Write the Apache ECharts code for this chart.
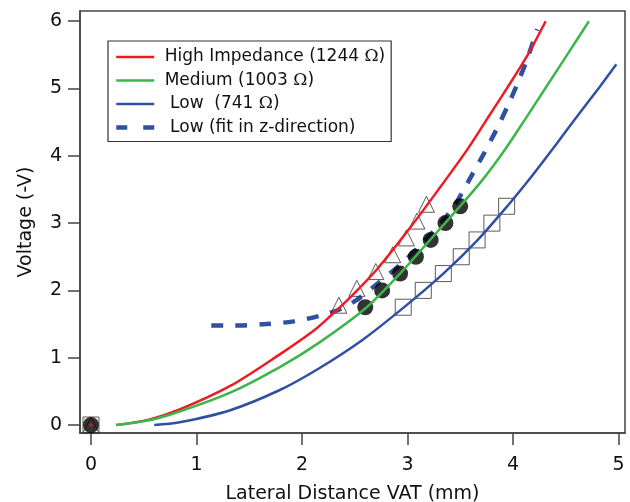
<!DOCTYPE html>
<html><head><meta charset="utf-8">
<script src="https://cdn.jsdelivr.net/npm/echarts@6/dist/echarts.min.js"></script>
<style>html,body{margin:0;padding:0;background:#fff}#c{width:630px;height:502px}</style>
</head><body><div id="c"></div>
<script>
// ---- data ----
const seriesNames = ['High Impedance (1244 Ω)', 'Medium (1003 Ω)', 'Low  (741 Ω)', 'Low (fit in z-direction)'];
const xTicks = [0, 1, 2, 3, 4, 5];
const yTicks = [0, 1, 2, 3, 4, 5, 6];

const highX = [0.24, 0.55, 0.84, 1.32, 1.79, 2.11, 2.27, 2.46, 2.72, 3.01, 3.29, 3.57, 3.76, 3.95, 4.14, 4.31];
const highY = [0.00, 0.08, 0.23, 0.58, 1.05, 1.40, 1.62, 1.90, 2.33, 2.90, 3.49, 4.10, 4.56, 5.02, 5.50, 6.00];

const medX = [0.24, 0.55, 0.84, 1.32, 1.79, 2.16, 2.60, 2.93, 3.22, 3.47, 3.70, 3.91, 4.11, 4.33, 4.53, 4.72];
const medY = [0.00, 0.07, 0.20, 0.48, 0.86, 1.22, 1.73, 2.25, 2.76, 3.20, 3.62, 4.06, 4.53, 5.06, 5.54, 6.00];

const lowX = [0.60, 0.84, 1.32, 1.79, 2.16, 2.57, 2.96, 3.34, 3.66, 3.94, 4.18, 4.40, 4.60, 4.82, 4.98];
const lowY = [0.00, 0.04, 0.22, 0.52, 0.84, 1.26, 1.74, 2.25, 2.74, 3.24, 3.70, 4.15, 4.57, 5.02, 5.36];

const fitX = [1.14, 1.40, 1.66, 1.92, 2.16, 2.36, 2.52, 2.70, 2.93, 3.12, 3.30, 3.42, 3.51, 3.62, 3.73, 3.84, 3.95, 4.05, 4.14, 4.23];
const fitY = [1.48, 1.48, 1.50, 1.54, 1.62, 1.72, 1.86, 2.08, 2.38, 2.67, 2.97, 3.20, 3.43, 3.74, 4.05, 4.38, 4.74, 5.10, 5.46, 5.88];

const triX = [0, 2.35, 2.52, 2.70, 2.86, 2.99, 3.09, 3.18];
const triY = [0, 1.78, 2.03, 2.28, 2.53, 2.78, 3.03, 3.28];

const circX = [0, 2.60, 2.76, 2.93, 3.08, 3.22, 3.36, 3.50];
const circY = [0, 1.75, 2.00, 2.25, 2.50, 2.75, 3.00, 3.25];

const sqX = [0, 2.96, 3.15, 3.34, 3.51, 3.66, 3.80, 3.94];
const sqY = [0, 1.75, 2.00, 2.25, 2.50, 2.75, 3.00, 3.25];

const originX = [0];
const originY = [0];

// ---- chart ----
const zip = (xs, ys) => xs.map((x, i) => [x, ys[i]]);
const FONT = 'DejaVu Sans';
const RED = '#ec1c24', GREEN = '#3db54a', BLUE = '#3050a2';

const line = (name, xs, ys, color, z, extra) => Object.assign({
  type: 'line', name, data: zip(xs, ys), symbol: 'none', showSymbol: false,
  smooth: 0.3, color, lineStyle: { color, width: 2.5 }, z, silent: true
}, extra || {});

const hollow = (sym, xs, ys, z) => ({
  type: 'scatter', data: zip(xs, ys), symbol: sym, symbolSize: 16, z, silent: true,
  itemStyle: { color: 'rgba(0,0,0,0)', borderColor: '#333', borderWidth: 1 }
});

const chart = echarts.init(document.getElementById('c'), null, { renderer: 'canvas' });
const indent = { [seriesNames[0]]: ' ', [seriesNames[1]]: ' ', [seriesNames[2]]: '  ', [seriesNames[3]]: '  ' };
const noMark = { opacity: 0 };

chart.setOption({
  animation: false,
  backgroundColor: '#fff',
  grid: { left: 80, right: 5, top: 11, bottom: 69, containLabel: false, outerBoundsMode: 'none',
    show: true, borderColor: '#444', borderWidth: 1.5, backgroundColor: 'rgba(0,0,0,0)' },
  legend: {
    orient: 'vertical', left: 108, top: 41,
    itemWidth: 38, itemHeight: 14, itemGap: 3.5,
    padding: [6, 6, 4, 6],
    borderColor: '#333', borderWidth: 1.2, backgroundColor: '#fff',
    selectedMode: false,
    itemStyle: noMark,
    textStyle: { fontFamily: FONT, fontSize: 17, lineHeight: 20, color: '#111',
      rich: { o: { fontFamily: 'DejaVu Serif', fontSize: 17, lineHeight: 20, color: '#111' } } },
    formatter: n => indent[n] + n.replace('Ω', '{o|Ω}'),
    data: [
      { name: seriesNames[0], itemStyle: noMark, lineStyle: { width: 2.5 } },
      { name: seriesNames[1], itemStyle: noMark, lineStyle: { width: 2.5 } },
      { name: seriesNames[2], itemStyle: noMark, lineStyle: { width: 2.5 } },
      { name: seriesNames[3], itemStyle: noMark, lineStyle: { width: 4.5, type: [11, 16] } }
    ]
  },
  xAxis: {
    type: 'value', min: -0.104, max: 5.062,
    name: 'Lateral Distance VAT (mm)', nameLocation: 'middle', nameGap: 52,
    nameTextStyle: { fontFamily: FONT, fontSize: 19, color: '#111' },
    axisLine: { show: true, onZero: false, lineStyle: { color: '#444', width: 1.5 } },
    axisTick: { show: true, inside: false, length: 12, customValues: xTicks, lineStyle: { color: '#444', width: 1.5 } },
    axisLabel: { customValues: xTicks, fontFamily: FONT, fontSize: 19, color: '#111', margin: 23 },
    splitLine: { show: false }
  },
  yAxis: {
    type: 'value', min: -0.119, max: 6.152,
    name: 'Voltage (-V)', nameLocation: 'middle', nameGap: 44, nameRotate: 90,
    nameTextStyle: { fontFamily: FONT, fontSize: 19, color: '#111' },
    axisLine: { show: true, onZero: false, lineStyle: { color: '#444', width: 1.5 } },
    axisTick: { show: true, inside: false, length: 12, customValues: yTicks, lineStyle: { color: '#444', width: 1.5 } },
    axisLabel: { customValues: yTicks, fontFamily: FONT, fontSize: 19, color: '#111', margin: 18 },
    splitLine: { show: false }
  },
  series: [
    line(seriesNames[3], fitX, fitY, BLUE, 2, { lineStyle: { color: BLUE, width: 4.5, type: [12, 12] } }),
    hollow('rect', sqX, sqY, 3),
    hollow('triangle', triX, triY, 3),
    { type: 'scatter', data: zip(circX, circY), symbol: 'circle', symbolSize: 16, z: 4, silent: true,
      itemStyle: { color: '#000' } },
    line(seriesNames[0], highX, highY, RED, 5),
    line(seriesNames[1], medX, medY, GREEN, 5),
    line(seriesNames[2], lowX, lowY, BLUE, 5),
    { type: 'scatter', data: zip(originX, originY), symbol: 'rect', symbolSize: 3, z: 6, silent: true,
      itemStyle: { color: RED } }
  ]
});
</script>
</body></html>
